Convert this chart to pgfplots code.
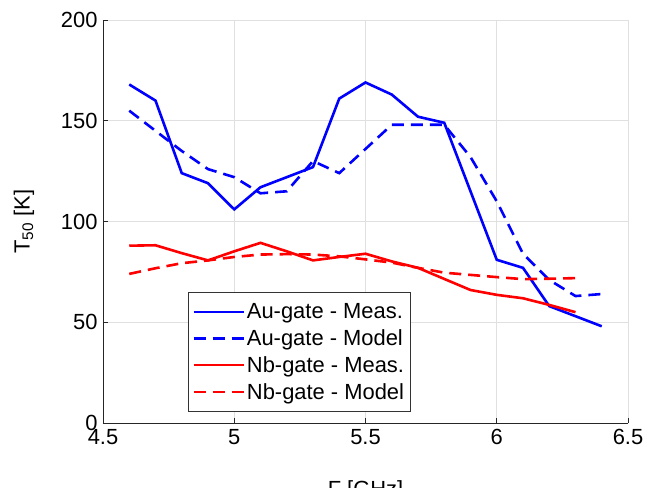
\documentclass[border=0pt]{standalone}
\usepackage{fontspec}
\setmainfont{Liberation Sans}
\usepackage{pgfplots}
\pgfplotsset{compat=1.18}
\begin{document}
\begin{tikzpicture}
\begin{axis}[
  at={(0,0)}, anchor=south west,
  scale only axis, width=525bp, height=403bp,
  xmin=4.5, xmax=6.5, ymin=0, ymax=200,
  xtick={4.5,5,5.5,6,6.5}, ytick={0,50,100,150,200},
  xticklabels={4.5,5,5.5,6,6.5},
  yticklabels={0,50,100,150,200},
  axis x line*=bottom, axis y line*=left,
  axis line style={-, draw=black!85, line width=0.7pt},
  tick align=inside, major tick length=5bp,
  tick style={draw=black!85, line width=0.6pt},
  grid=major, grid style={draw=black!12, line width=0.7pt},
  font=\fontsize{22}{26}\selectfont,
  ticklabel style={font=\fontsize{22}{26}\selectfont},
  xticklabel style={yshift=-3bp},
  yticklabel style={xshift=-2bp},
  xlabel={F [GHz]}, ylabel={T\textsubscript{50} [K]},
  xlabel style={font=\fontsize{22}{26}\selectfont, yshift=-29bp},
  ylabel style={font=\fontsize{22}{26}\selectfont, yshift=20bp},
  legend cell align=left,
  legend style={at={(0.162,0.3245)}, anchor=north west, draw=black!80, line width=0.6pt,
    font=\fontsize{22}{26}\selectfont, inner xsep=4bp, inner ysep=9bp, row sep=5.5bp},
  legend image code/.code={\draw[#1] (0bp,0bp) -- (50bp,0bp);},
]
\addplot[blue, line width=2.6bp] coordinates {
 (4.6,168) (4.7,160) (4.8,124) (4.9,119) (5.0,106) (5.1,117) (5.2,122) (5.3,127)
 (5.4,161) (5.5,169) (5.6,163) (5.7,152) (5.8,149) (5.9,115) (6.0,81) (6.1,77)
 (6.2,58) (6.3,53) (6.4,48)};
\addlegendentry{Au-gate - Meas.}
\addplot[blue, line width=2.6bp, dash pattern=on 12bp off 7bp] coordinates {
 (4.6,155) (4.7,145) (4.8,135) (4.9,126) (5.0,122) (5.1,114) (5.2,115) (5.3,130)
 (5.4,124) (5.5,136) (5.6,148) (5.7,148) (5.8,148) (5.9,132) (6.0,110) (6.1,84)
 (6.2,71) (6.3,63) (6.4,64)};
\addlegendentry{Au-gate - Model}
\addplot[red, line width=2.6bp] coordinates {
 (4.6,88) (4.7,88.2) (4.8,84.3) (4.9,80.7) (5.0,85.2) (5.1,89.4) (5.2,85.2) (5.3,80.7)
 (5.4,82.4) (5.5,84) (5.6,80.2) (5.7,77) (5.8,71.5) (5.9,66) (6.0,63.6)
 (6.1,61.9) (6.2,58.6) (6.3,55)};
\addlegendentry{Nb-gate - Meas.}
\addplot[red, line width=2.6bp, dash pattern=on 12bp off 7bp] coordinates {
 (4.6,74) (4.7,76.8) (4.8,79.3) (4.9,80.7) (5.0,82.4) (5.1,83.6) (5.2,83.8) (5.3,83.6)
 (5.4,82.7) (5.5,81.2) (5.6,79.6) (5.7,77) (5.8,74.6) (5.9,73.5) (6.0,72.4)
 (6.1,71.4) (6.2,71.6) (6.3,71.9)};
\addlegendentry{Nb-gate - Model}
\end{axis}
\pgfresetboundingbox
\path[use as bounding box] (-103bp,-65bp) rectangle (545bp,423bp);
\end{tikzpicture}
\end{document}
